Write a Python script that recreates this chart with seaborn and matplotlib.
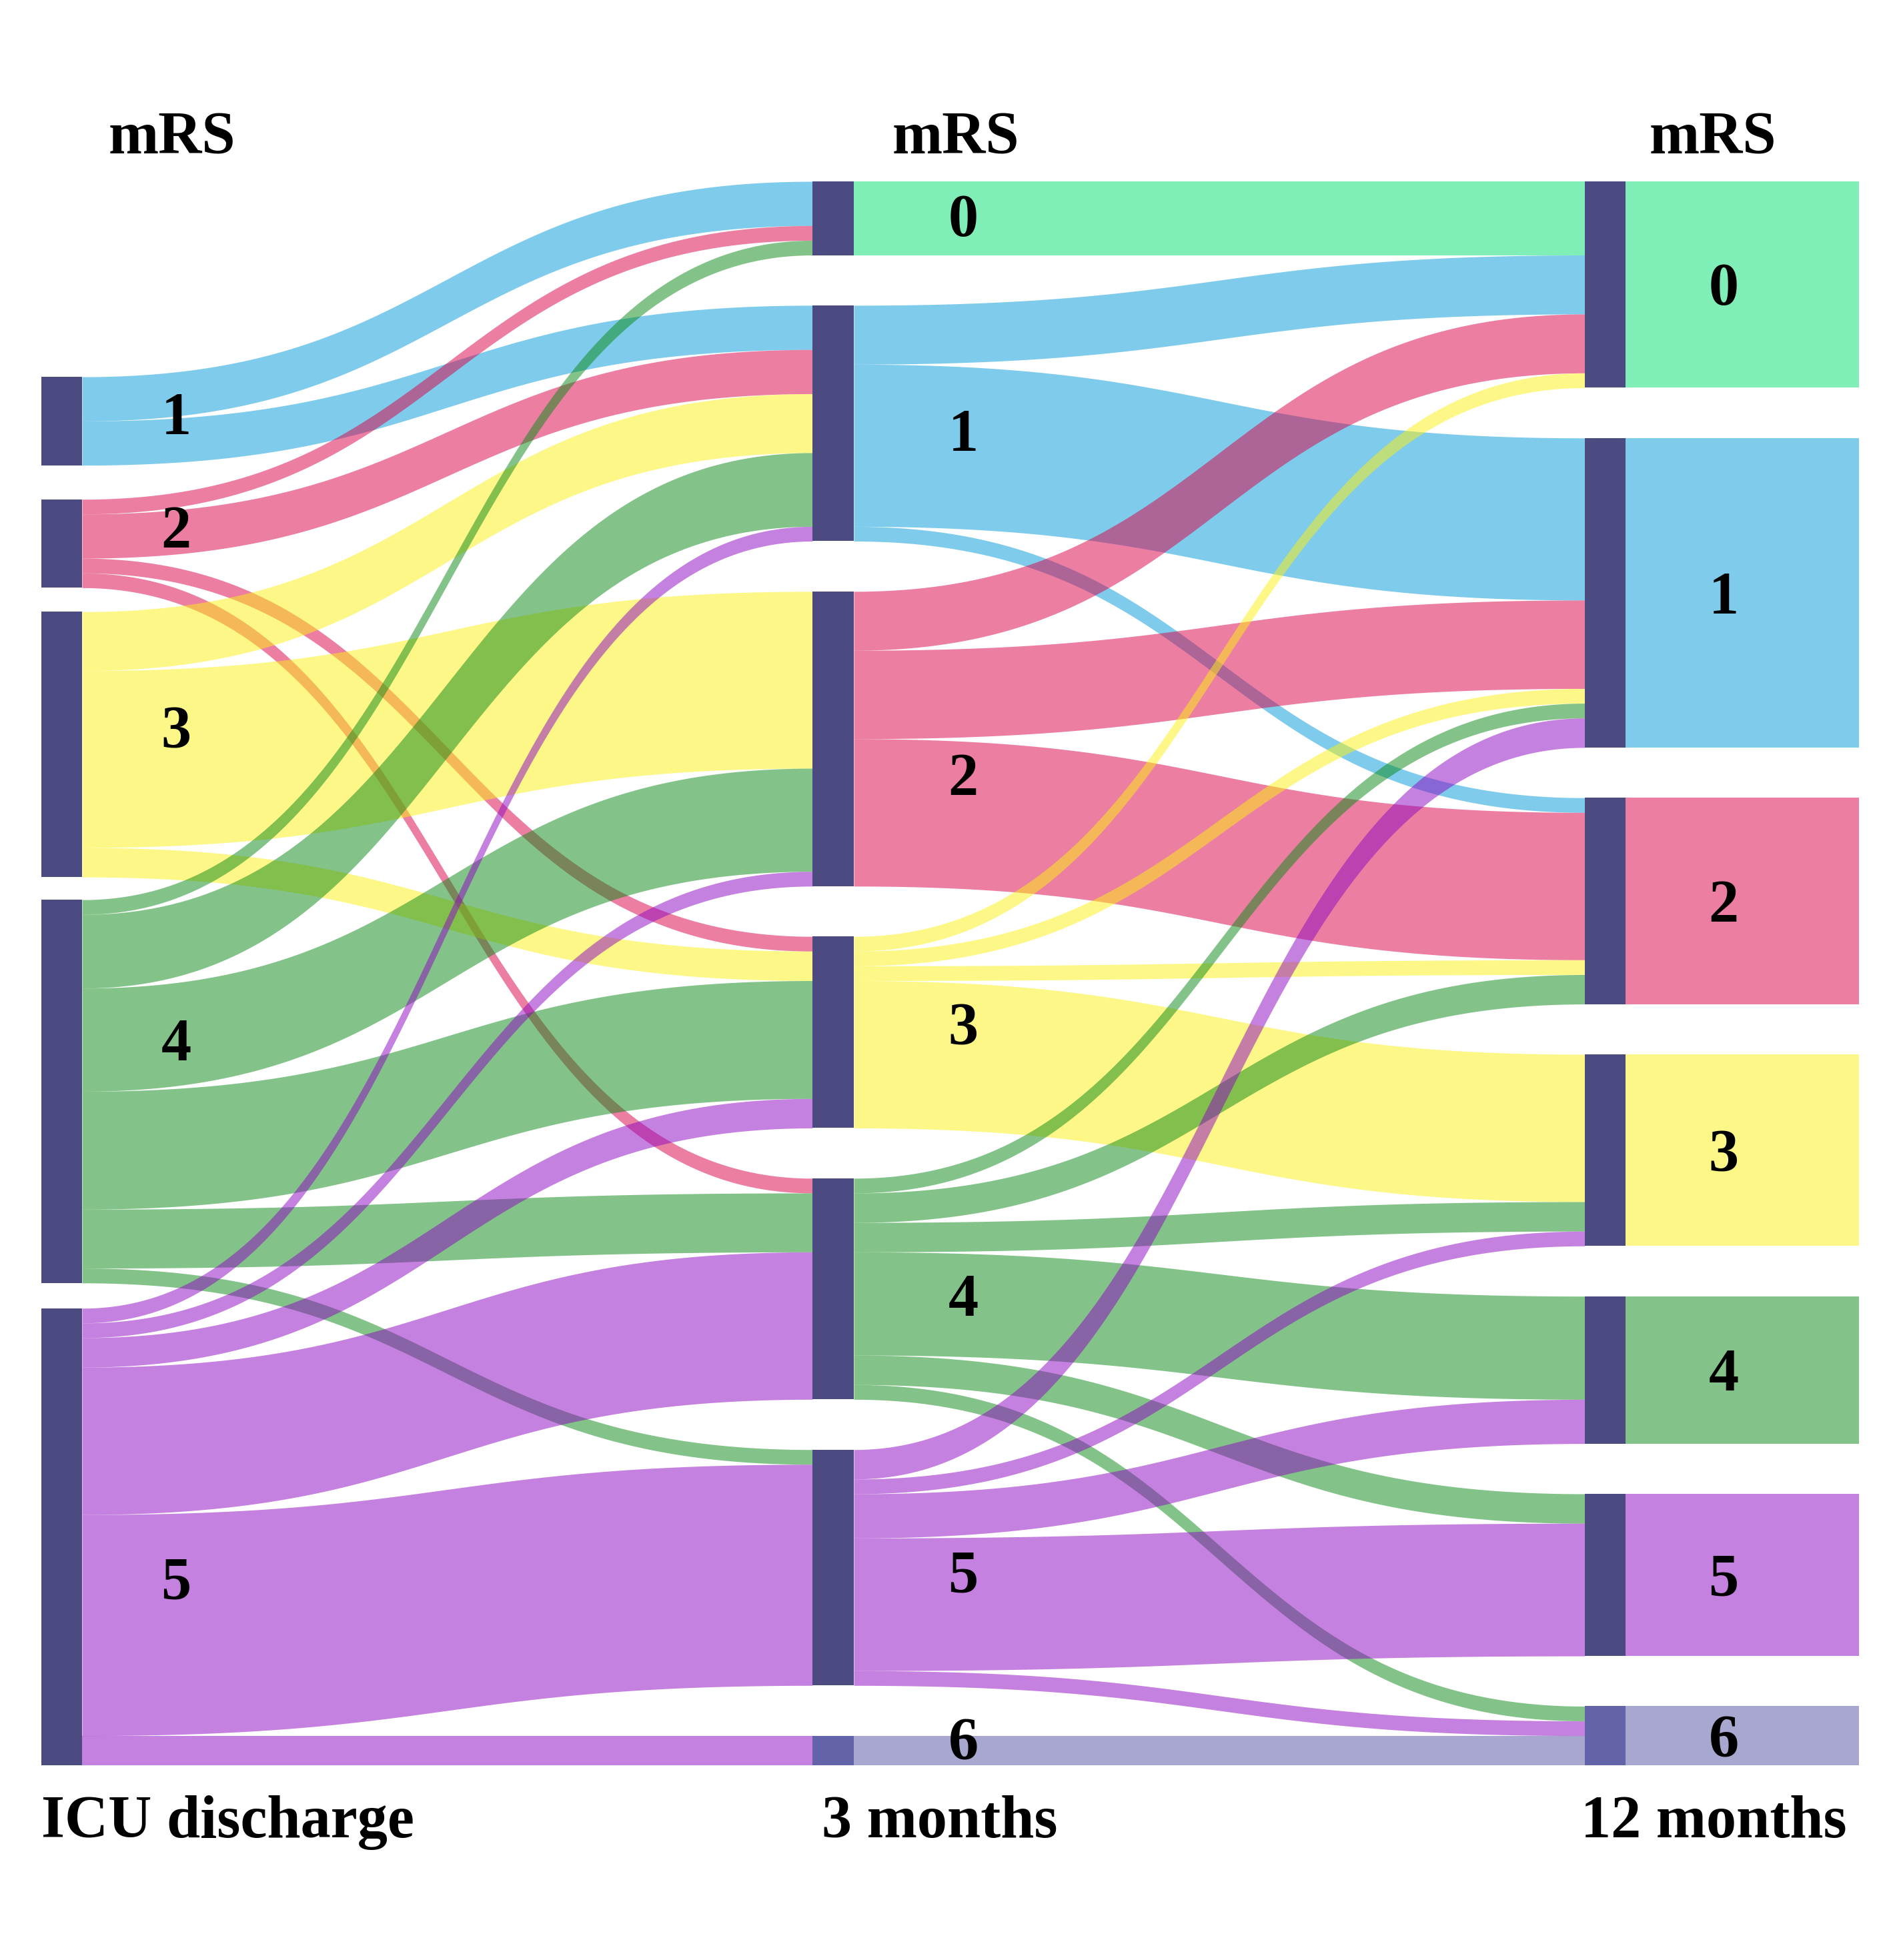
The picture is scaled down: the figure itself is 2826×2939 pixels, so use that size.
import numpy as np
import matplotlib
matplotlib.use("Agg")
import matplotlib.pyplot as plt
import seaborn as sns

# mRS levels at each time point
icu_levels = [1, 2, 3, 4, 5]
m3_levels = [0, 1, 2, 3, 4, 5, 6]
m12_levels = [0, 1, 2, 3, 4, 5, 6]

# patients: ICU discharge mRS (rows) -> mRS at 3 months (columns 0..6)
icu_to_m3 = [
    [3, 3, 0, 0, 0, 0, 0],
    [1, 3, 0, 1, 1, 0, 0],
    [0, 4, 12, 2, 0, 0, 0],
    [1, 5, 7, 8, 4, 1, 0],
    [0, 1, 1, 2, 10, 15, 2],
]

# patients: mRS at 3 months (rows) -> mRS at 12 months (columns 0..6)
m3_to_m12 = [
    [5, 0, 0, 0, 0, 0, 0],
    [4, 11, 1, 0, 0, 0, 0],
    [4, 6, 10, 0, 0, 0, 0],
    [1, 1, 1, 10, 0, 0, 0],
    [0, 1, 2, 2, 7, 2, 1],
    [0, 2, 0, 1, 3, 9, 1],
    [0, 0, 0, 0, 0, 0, 2],
]

stage_names = ["ICU discharge", "3 months", "12 months"]
header_text = "mRS"

# link colour per mRS level (drawn half transparent)
level_colors = sns.color_palette(
    ["#01e171", "#0199d9", "#db0145", "#fdf111", "#098915", "#8d05c1", "#5151a1"])
node_color = "#4b4b82"
dead_node_color = "#6363a9"

# ---- layout (pixels of the final image, y in patient units) ----
fig_w, fig_h, dpi = 2826, 2939, 200
unit_px = 22.1          # pixels per patient
top_px = 272            # top of the 3 / 12 month columns
col_gap = 3.41          # gap between nodes (patients) in the right columns
icu_gaps = [2.31, 1.63, 1.54, 1.72]
bar_x = [(62, 123), (1218, 1280), (2376, 2437)]
box_right = 2787
label_x = [264, 1444, 2584]
header_x = [258, 1433, 2568]
stage_x = [62, 1232, 2370]
icu_label_shift = [-0.5, -1.1, -1.2, -3.5, 2.85]
m3_label_shift = [-0.2, 0.5, 2.4, -0.6, 0.45, 0.3, -0.8]
m12_label_shift = [0, 0, 0, 0, 0, 0, 0]
font_size = 32.5

sns.set_theme(style="white")
plt.rcParams["font.family"] = ["Liberation Serif", "DejaVu Serif"]

a = np.array(icu_to_m3)
b = np.array(m3_to_m12)
icu_sizes = a.sum(axis=1)
m3_sizes = a.sum(axis=0)
m12_sizes = b.sum(axis=0)

column_bottom = m3_sizes.sum() + col_gap * (len(m3_sizes) - 1)


def stack(sizes, gaps):
    total = sizes.sum() + sum(gaps)
    tops = []
    y = column_bottom - total
    for k, s in enumerate(sizes):
        tops.append(y)
        y += s
        if k < len(gaps):
            y += gaps[k]
    return np.array(tops)


icu_tops = stack(icu_sizes, icu_gaps)
m3_tops = stack(m3_sizes, [col_gap] * (len(m3_sizes) - 1))
m12_tops = stack(m12_sizes, [col_gap] * (len(m12_sizes) - 1))

fig = plt.figure(figsize=(fig_w / dpi, fig_h / dpi), dpi=dpi)
ax = fig.add_axes([0, 0, 1, 1])
ax.set_xlim(0, fig_w)
ax.set_ylim((fig_h - top_px) / unit_px, -top_px / unit_px)
ax.axis("off")


def ribbon(x0, x1, y0, y1, h, color):
    t = np.linspace(0, 1, 150)
    xm = (x0 + x1) / 2
    bx = (1 - t) ** 3 * x0 + 3 * (1 - t) ** 2 * t * xm + 3 * (1 - t) * t ** 2 * xm + t ** 3 * x1
    by = y0 + (y1 - y0) * (3 * t ** 2 - 2 * t ** 3)
    ax.fill_between(bx, by, by + h, color=color, alpha=0.5, linewidth=0)


def draw_links(flows, src_tops, dst_tops, src_levels, x0, x1):
    out_cur = src_tops.copy()
    in_cur = dst_tops.copy()
    for i in range(flows.shape[0]):
        for j in range(flows.shape[1]):
            v = flows[i, j]
            if v == 0:
                continue
            ribbon(x0, x1, out_cur[i], in_cur[j], v, level_colors[src_levels[i]])
            out_cur[i] += v
            in_cur[j] += v


draw_links(a, icu_tops, m3_tops, icu_levels, bar_x[0][1], bar_x[1][0])
draw_links(b, m3_tops, m12_tops, m3_levels, bar_x[1][1], bar_x[2][0])

# coloured boxes right of the 12 month nodes
ax.bar(x=(bar_x[2][1] + box_right) / 2, height=m12_sizes, bottom=m12_tops,
       width=box_right - bar_x[2][1], color=[level_colors[l] for l in m12_levels],
       alpha=0.5, linewidth=0)

# node bars
columns = [(icu_levels, icu_sizes, icu_tops), (m3_levels, m3_sizes, m3_tops),
           (m12_levels, m12_sizes, m12_tops)]
for (levels, sizes, tops), (x0, x1) in zip(columns, bar_x):
    colors = [dead_node_color if l == 6 else node_color for l in levels]
    ax.bar(x=(x0 + x1) / 2, height=sizes, bottom=tops, width=x1 - x0,
           color=colors, linewidth=0)

# node labels (baseline below the centre by half a digit height)
half_digit = 0.34 * font_size / 72 * dpi / unit_px
shifts = [icu_label_shift, m3_label_shift, m12_label_shift]
for (levels, sizes, tops), lx, sh in zip(columns, label_x, shifts):
    for l, s, t, d in zip(levels, sizes, tops, sh):
        ax.text(lx, t + s / 2 + half_digit + d, str(l), ha="center", va="baseline",
                fontsize=font_size, fontweight="bold", color="black")

# headers and stage names
for hx in header_x:
    ax.text(hx, (230 - top_px) / unit_px, header_text, ha="center", va="baseline",
            fontsize=font_size, fontweight="bold", color="black")
for sx, name in zip(stage_x, stage_names):
    ax.text(sx, (2755 - top_px) / unit_px, name, ha="left", va="baseline",
            fontsize=font_size, fontweight="bold", color="black")

fig.savefig("out.png", dpi=dpi, facecolor="white")
